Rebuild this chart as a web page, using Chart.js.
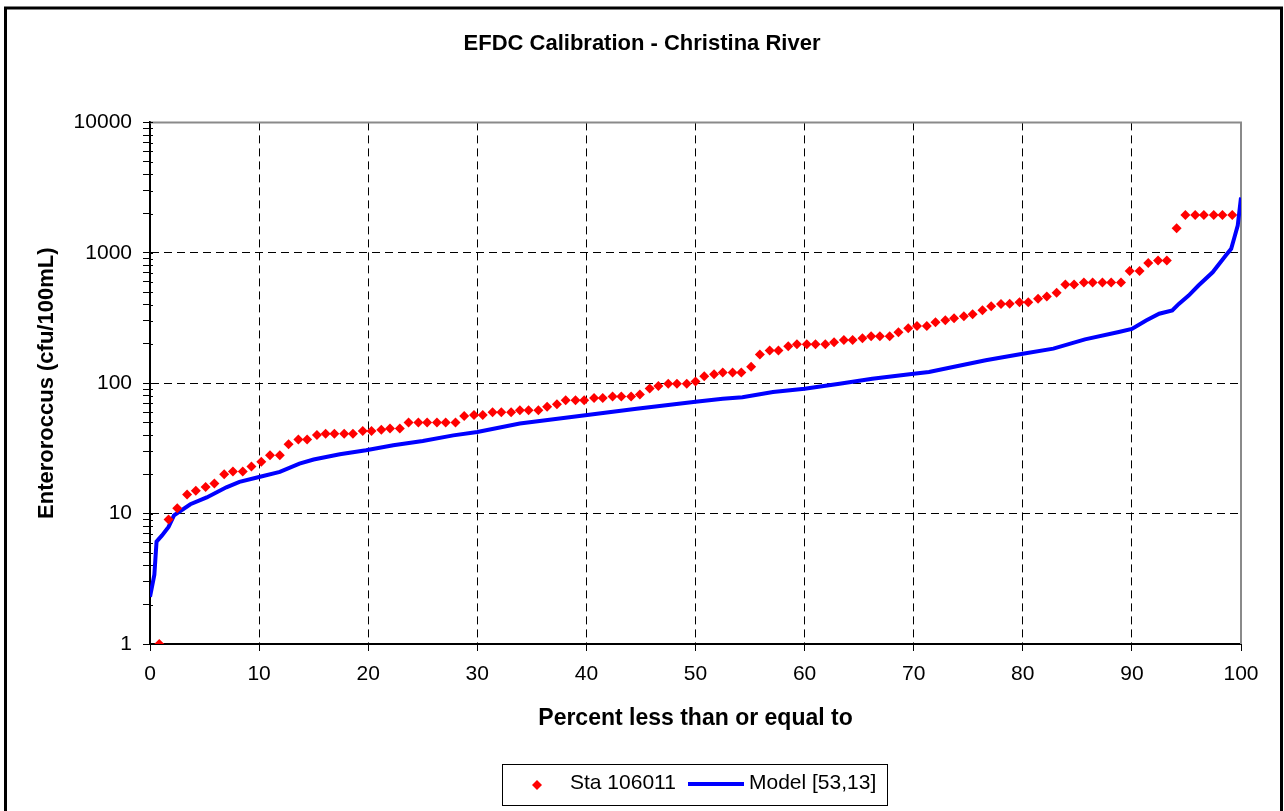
<!DOCTYPE html>
<html><head><meta charset="utf-8">
<script src="https://cdn.jsdelivr.net/npm/chart.js@4.4.0/dist/chart.umd.min.js"></script>
<style>html,body{margin:0;padding:0;background:#fff;} #wrap{width:1284px;height:811px;position:relative;}</style>
</head><body><div id="wrap"><canvas id="c" width="1284" height="811"></canvas></div>
<script>
const chartTitle = 'EFDC Calibration - Christina River';
const xAxisTitle = 'Percent less than or equal to';
const yAxisTitle = 'Enteroroccus (cfu/100mL)';
const obsLabel = 'Sta 106011';
const modelLabel = 'Model [53,13]';

const obsX = [0.85,1.7,2.5,3.4,4.2,5.1,5.9,6.8,7.6,8.5,
  9.3,10.2,11.0,11.9,12.7,13.6,14.4,15.3,16.1,16.9,
  17.8,18.6,19.5,20.3,21.2,22.0,22.9,23.7,24.6,25.4,
  26.3,27.1,28.0,28.8,29.7,30.5,31.4,32.2,33.1,33.9,
  34.7,35.6,36.4,37.3,38.1,39.0,39.8,40.7,41.5,42.4,
  43.2,44.1,44.9,45.8,46.6,47.5,48.3,49.2,50.0,50.8,
  51.7,52.5,53.4,54.2,55.1,55.9,56.8,57.6,58.5,59.3,
  60.2,61.0,61.9,62.7,63.6,64.4,65.3,66.1,66.9,67.8,
  68.6,69.5,70.3,71.2,72.0,72.9,73.7,74.6,75.4,76.3,
  77.1,78.0,78.8,79.7,80.5,81.4,82.2,83.1,83.9,84.7,
  85.6,86.4,87.3,88.1,89.0,89.8,90.7,91.5,92.4,93.2,
  94.1,94.9,95.8,96.6,97.5,98.3,99.2];
const obsY = [1,9,11,14,15,16,17,20,21,21,
  23,25,28,28,34,37,37,40,41,41,
  41,41,43,43,44,45,45,50,50,50,
  50,50,50,56,57,57,60,60,60,62,
  62,62,66,69,74,74,74,77,77,79,
  79,79,82,91,95,99,99,99,103,113,
  117,121,121,121,134,166,178,178,192,199,
  199,199,199,206,214,214,221,229,229,229,
  246,264,274,274,294,304,315,326,338,363,
  389,405,406,418,418,444,462,493,571,571,
  592,592,592,592,592,725,725,836,871,871,
  1540,1950,1950,1950,1950,1950,1950];

const modelX = [0,0.4,0.6,1.1,1.7,2.2,3.7,5.2,7.0,8.2,10.0,11.9,13.7,15.0,17.4,19.8,22.3,25.0,27.8,30.0,
  33.9,39.9,44.6,50.0,52.5,54.3,57.1,60.0,63.2,66.2,70.0,71.4,73.6,76.6,80.0,82.8,85.7,88.8,90.0,91.3,
  92.5,93.7,94.3,95.2,96.1,97.4,98.6,99.1,99.4,99.7,100];
const modelY = [2.3,3.4,6.1,6.8,7.9,9.7,11.8,13.3,15.9,17.5,19.1,20.9,24.2,26,28.5,30.6,33.4,36,39.8,42.2,
  49,56.7,63.8,72,76,78,85.5,90.8,99,108,118,122,133,150,168,184,217,247,261,303,
  341,361,406,470,561,709,952,1072,1315,1616,2660];

const xTickValues = [0,10,20,30,40,50,60,70,80,90,100];
const yMajorTicks = [1,10,100,1000,10000];

const FONT = '"Liberation Sans", Arial, sans-serif';
Chart.defaults.font.family = FONT;
Chart.defaults.color = '#000';

const yTickValues = [];
for (let d = 1; d < 10000; d *= 10) { for (let m = 1; m < 10; m++) yTickValues.push(m * d); }
yTickValues.push(10000);

const decor = {
  id: 'decor',
  beforeDraw(chart) {
    const c = chart.ctx;
    c.save(); c.fillStyle = '#fff'; c.fillRect(0, 0, chart.width, chart.height); c.restore();
  },
  beforeDatasetsDraw(chart) {
    const c = chart.ctx, a = chart.chartArea;
    c.save();
    c.strokeStyle = '#8a8a8a'; c.lineWidth = 2;
    c.beginPath();
    c.moveTo(a.left, a.top); c.lineTo(a.right, a.top); c.lineTo(a.right, a.bottom);
    c.stroke();
    // inner part of the y-axis tick marks (they cross the axis)
    const ys = chart.scales.y;
    c.strokeStyle = '#000'; c.lineWidth = 1;
    c.beginPath();
    yTickValues.forEach(v => {
      const py = Math.round(ys.getPixelForValue(v)) + 0.5;
      c.moveTo(a.left, py); c.lineTo(a.left + 3, py);
    });
    c.stroke();
    c.restore();
  },
  afterDraw(chart) {
    const c = chart.ctx;
    c.save();
    // outer frame (left, top, right)
    c.strokeStyle = '#000'; c.lineWidth = 3;
    c.beginPath();
    c.moveTo(5.5, 811); c.lineTo(5.5, 8); c.lineTo(1281.5, 8); c.lineTo(1281.5, 811);
    c.stroke();
    // legend
    c.lineWidth = 1;
    c.strokeRect(502.5, 764.5, 385, 41);
    const ly = 785;
    c.fillStyle = '#ff0000';
    c.beginPath();
    c.moveTo(537, ly - 5); c.lineTo(542, ly); c.lineTo(537, ly + 5); c.lineTo(532, ly);
    c.closePath(); c.fill();
    c.strokeStyle = '#0000ff'; c.lineWidth = 4;
    c.beginPath(); c.moveTo(688, ly - 1); c.lineTo(744, ly - 1); c.stroke();
    c.fillStyle = '#000';
    c.font = '21px ' + FONT;
    c.textBaseline = 'middle'; c.textAlign = 'left';
    c.fillText(obsLabel, 570, ly - 2);
    c.fillText(modelLabel, 749, ly - 2);
    c.restore();
  }
};

new Chart(document.getElementById('c'), {
  type: 'scatter',
  data: {
    datasets: [
      {
        label: obsLabel,
        data: obsX.map((x, i) => ({x: x, y: obsY[i]})),
        pointStyle: 'rectRot',
        pointRadius: 5,
        pointBorderWidth: 0,
        backgroundColor: '#ff0000',
        borderColor: '#ff0000',
        showLine: false
      },
      {
        label: modelLabel,
        data: modelX.map((x, i) => ({x: x, y: modelY[i]})),
        showLine: true,
        borderColor: '#0000ff',
        backgroundColor: '#0000ff',
        borderWidth: 4,
        pointRadius: 0,
        tension: 0
      }
    ]
  },
  options: {
    responsive: false,
    animation: false,
    devicePixelRatio: 1,
    layout: { padding: { left: 0, right: 0, top: 0, bottom: 0 } },
    plugins: {
      legend: { display: false },
      tooltip: { enabled: false },
      title: {
        display: true,
        text: chartTitle,
        font: { size: 22, weight: 'bold', family: FONT },
        color: '#000',
        padding: { top: 31, bottom: 65 }
      }
    },
    scales: {
      x: {
        type: 'linear',
        min: 0, max: 100,
        afterBuildTicks: (s) => { s.ticks = xTickValues.map(v => ({value: v})); },
        afterFit: (s) => { s.height = 167; },
        ticks: { font: { size: 21 }, padding: 11, color: '#000', maxRotation: 0, autoSkip: false },
        grid: {
          color: (ctx) => (ctx.tick && ctx.tick.value > 0 && ctx.tick.value < 100) ? '#000' : 'rgba(0,0,0,0)',
          tickColor: '#000', tickLength: 7, lineWidth: 1
        },
        border: { display: true, color: '#000', width: 2, dash: [8, 5] },
        title: { display: true, text: xAxisTitle, font: { size: 23, weight: 'bold' }, color: '#000', padding: { top: 0, bottom: 79 } }
      },
      y: {
        type: 'logarithmic',
        min: 1, max: 10000,
        afterBuildTicks: (s) => { s.ticks = yTickValues.map(v => ({value: v})); },
        afterFit: (s) => { s.width = 150; },
        ticks: {
          font: { size: 21 }, padding: 11, color: '#000', autoSkip: false,
          callback: (v) => yMajorTicks.includes(v) ? String(v) : ''
        },
        grid: {
          color: (ctx) => (ctx.tick && yMajorTicks.includes(ctx.tick.value) && ctx.tick.value > 1 && ctx.tick.value < 10000) ? '#000' : 'rgba(0,0,0,0)',
          tickColor: '#000', tickLength: 7, lineWidth: 1
        },
        border: { display: true, color: '#000', width: 2, dash: [8, 5] },
        title: { display: true, text: yAxisTitle, font: { size: 22, weight: 'bold' }, color: '#000', padding: { top: 34, bottom: 0 } }
      },
      yRight: {
        type: 'linear',
        position: 'right',
        display: true,
        afterFit: (s) => { s.width = 43; },
        ticks: { display: false },
        grid: { display: false, drawOnChartArea: false },
        border: { display: false },
        title: { display: false }
      }
    }
  },
  plugins: [decor]
});
</script>
</body></html>
